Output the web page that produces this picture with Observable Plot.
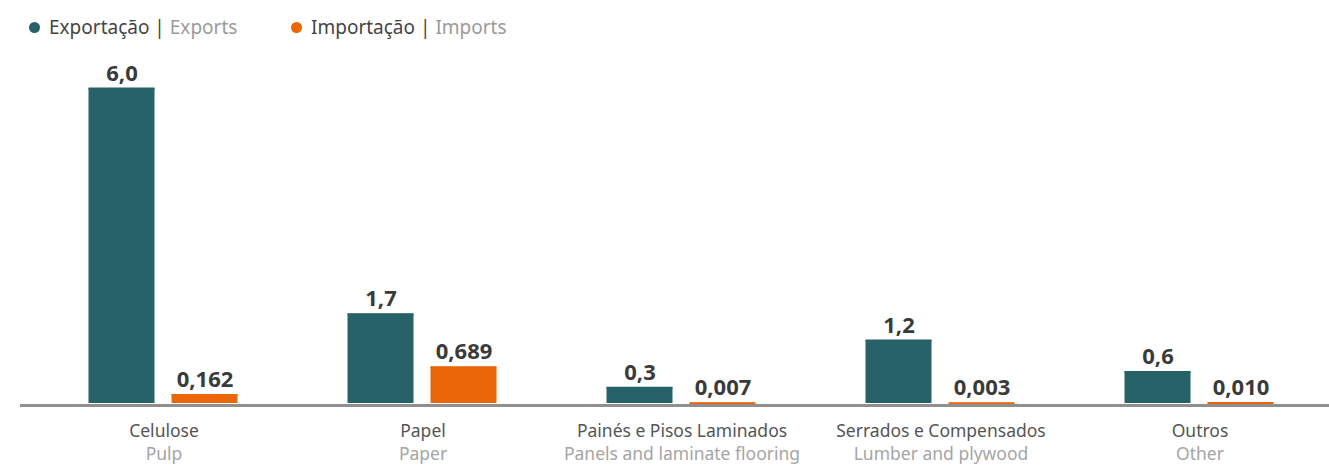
<!DOCTYPE html>
<html>
<head>
<meta charset="utf-8">
<script src="https://cdn.jsdelivr.net/npm/d3@7"></script>
<script src="https://cdn.jsdelivr.net/npm/@observablehq/plot@0.6"></script>
<style>
  html, body { margin: 0; padding: 0; background: #fff; }
  body { width: 1329px; height: 466px; overflow: hidden; font-family: "Noto Sans", sans-serif; }
  #legend { height: 50px; position: relative; font-size: 19px; }
  .item { position: absolute; top: 14px; display: flex; align-items: center; white-space: nowrap; }
  .dot { width: 11px; height: 11px; border-radius: 50%; margin-right: 9px; }
  .pt { color: #444; }
  .en { color: #9a9a9a; }
  svg { display: block; }
</style>
</head>
<body>
<div id="legend"></div>
<div id="chart"></div>
<script>
const categoriesPt = ["Celulose", "Papel", "Painés e Pisos Laminados", "Serrados e Compensados", "Outros"];
const categoriesEn = ["Pulp", "Paper", "Panels and laminate flooring", "Lumber and plywood", "Other"];
const seriesPt = ["Exportação", "Importação"];
const seriesEn = ["Exports", "Imports"];
const exportsValues = [6.0, 1.7, 0.3, 1.2, 0.6];
const importsValues = [0.162, 0.689, 0.007, 0.003, 0.010];
const exportDecimals = 1;
const importDecimals = 3;
const colors = ["#266268", "#EB6609"];

const locale = d3.formatLocale({decimal: ",", thousands: ".", grouping: [3], currency: ["", ""]});
const fmtExp = locale.format(`.${exportDecimals}f`);
const fmtImp = locale.format(`.${importDecimals}f`);

const data = [];
categoriesPt.forEach((c, i) => {
  data.push({cat: c, series: seriesPt[0], value: exportsValues[i], label: fmtExp(exportsValues[i])});
  data.push({cat: c, series: seriesPt[1], value: importsValues[i], label: fmtImp(importsValues[i])});
});
const enOf = new Map(categoriesPt.map((c, i) => [c, categoriesEn[i]]));

// legend
const legend = document.getElementById("legend");
const legendX = [29, 291];
seriesPt.forEach((s, i) => {
  const item = document.createElement("div");
  item.className = "item";
  item.style.left = legendX[i] + "px";
  item.innerHTML = `<span class="dot" style="background:${colors[i]}"></span><span class="pt">${s} |&nbsp;</span><span class="en">${seriesEn[i]}</span>`;
  legend.appendChild(item);
});

const chart = Plot.plot({
  width: 1329,
  height: 416,
  marginLeft: 33.5,
  marginRight: 0.5,
  marginTop: 38,
  marginBottom: 63,
  style: {fontFamily: "Noto Sans, sans-serif", background: "#fff"},
  fx: {domain: categoriesPt, padding: 0, label: null},
  x: {domain: seriesPt, paddingInner: 0.2024, paddingOuter: 0.643, axis: null},
  y: {domain: [0, 6], axis: null},
  color: {domain: seriesPt, range: colors},
  marks: [
    Plot.barY(data, {fx: "cat", x: "series", y: "value", fill: "series"}),
    Plot.tickY(data, {fx: "cat", x: "series", y: "value", stroke: "series", strokeWidth: 2}),
    Plot.ruleY([0], {stroke: "#8f8f8f", strokeWidth: 3, dy: 1.5, insetLeft: -14.5, shapeRendering: "crispEdges"}),
    Plot.text(data, {fx: "cat", x: "series", y: "value", text: "label", lineAnchor: "bottom", dy: -8,
      fill: "#3a3a3a", fontWeight: "bold", fontSize: 22}),
    Plot.axisFx({anchor: "bottom", tickSize: 0, tickPadding: 21, fontSize: 17.5, color: "#555", label: null}),
    Plot.axisFx({anchor: "bottom", tickSize: 0, tickPadding: 44, fontSize: 17.5, color: "#a5a5a5", label: null,
      tickFormat: d => enOf.get(d)})
  ]
});
document.getElementById("chart").appendChild(chart);
</script>
</body>
</html>
